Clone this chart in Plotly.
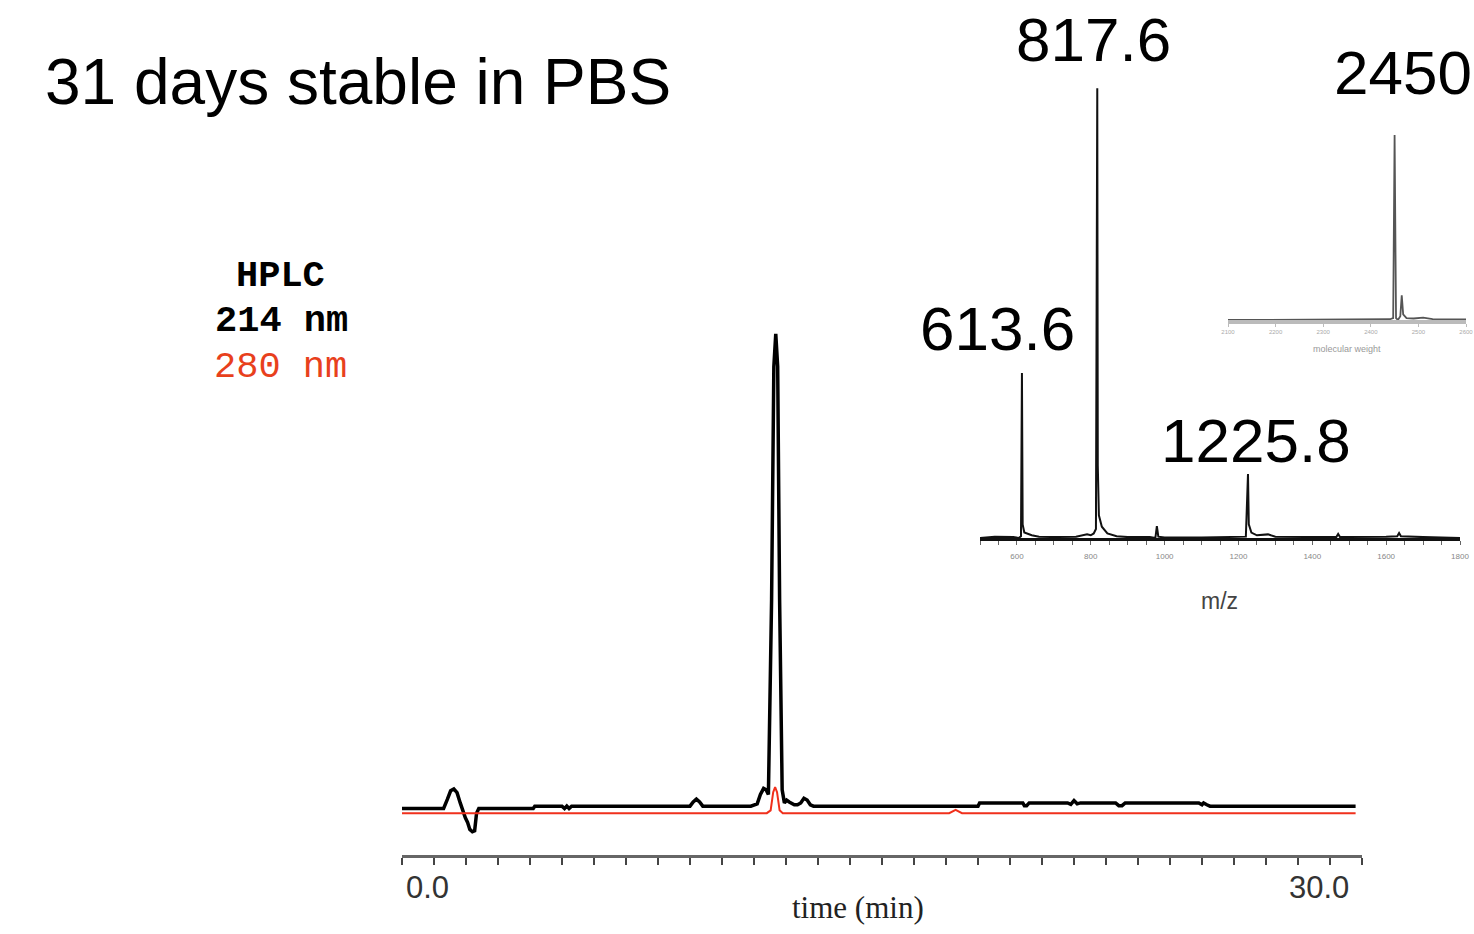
import plotly.graph_objects as go

# ---------------- data ----------------
# HPLC chromatogram, 214 nm (black) - time (min), relative absorbance
hplc_214_t = [0.0, 1.3, 1.42, 1.52, 1.62, 1.72, 1.82, 1.9, 1.98, 2.05, 2.12, 2.2, 2.27, 2.33, 2.4,
              4.1, 4.15, 5.0, 5.08, 5.15, 5.22, 5.3, 5.38, 9.0, 9.1, 9.2, 9.3, 9.4,
              10.9, 11.0, 11.1, 11.2, 11.3, 11.38, 11.45, 11.55, 11.62, 11.68, 11.74, 11.8, 11.88, 11.95,
              12.02, 12.1, 12.18, 12.26, 12.36, 12.46, 12.56, 12.66, 12.76, 12.86,
              18.0, 18.05, 19.4, 19.45, 19.52, 19.6, 20.8, 20.9, 21.0, 21.1, 21.2, 22.3, 22.4, 22.5, 22.6,
              24.9, 25.0, 25.05, 25.15, 25.25, 29.8]
hplc_214_y = [0.0, 0.0, 0.02, 0.038, 0.042, 0.034, 0.012, -0.005, -0.02, -0.03, -0.045, -0.05, -0.048, -0.01, 0.0,
              0.0, 0.005, 0.005, 0.0, 0.005, 0.0, 0.005, 0.005, 0.005, 0.014, 0.02, 0.014, 0.005,
              0.005, 0.008, 0.01, 0.03, 0.043, 0.04, 0.03, 0.45, 0.95, 1.02, 0.95, 0.45, 0.04, 0.012,
              0.018, 0.014, 0.01, 0.008, 0.008, 0.012, 0.022, 0.018, 0.008, 0.005,
              0.005, 0.012, 0.012, 0.006, 0.006, 0.012, 0.012, 0.009, 0.017, 0.01, 0.012, 0.012, 0.006, 0.006, 0.012,
              0.012, 0.008, 0.012, 0.008, 0.005, 0.005]

# HPLC chromatogram, 280 nm (red)
hplc_280_t = [0.0, 11.4, 11.52, 11.6, 11.66, 11.72, 11.8, 11.9, 12.05, 17.1, 17.3, 17.5, 29.8]
hplc_280_y = [-0.01, -0.01, -0.004, 0.035, 0.046, 0.035, -0.004, -0.01, -0.01, -0.01, -0.003, -0.01, -0.01]

# ESI mass spectrum (m/z, relative intensity)
ms_mz = [500, 540, 590, 605, 611, 613.6, 615.5, 620, 640, 660, 700, 760, 790, 800, 808, 814, 817.6, 819, 822,
         830, 845, 870, 900, 960, 975, 979, 983, 1000, 1100, 1200, 1220, 1225.8, 1228, 1235, 1250, 1280, 1300,
         1400, 1465, 1470, 1475, 1600, 1630, 1635, 1640, 1700, 1800]
ms_int = [0.0, 0.003, 0.002, 0.0, 0.004, 0.364, 0.03, 0.012, 0.006, 0.003, 0.002, 0.003, 0.008, 0.006, 0.01,
          0.02, 0.993, 0.16, 0.05, 0.025, 0.01, 0.004, 0.002, 0.002, 0.0, 0.026, 0.003, 0.001, 0.001, 0.002,
          0.003, 0.141, 0.03, 0.012, 0.006, 0.008, 0.003, 0.002, 0.002, 0.009, 0.002, 0.003, 0.004, 0.011, 0.004,
          0.002, 0.0]

# Deconvoluted molecular weight
mw_x = [2100, 2300, 2400, 2440, 2447, 2450, 2453, 2457, 2462, 2465, 2468, 2475, 2490, 2510, 2530, 2600]
mw_y = [0.0, 0.002, 0.004, 0.004, 0.01, 0.974, 0.01, 0.0, 0.02, 0.13, 0.03, 0.01, 0.008, 0.012, 0.005, 0.003]

# tick labels
hplc_ticks = list(range(0, 31))
hplc_tick_labels = ["0.0", "30.0"]
ms_tickvals = list(range(500, 1801, 50))
ms_ticklabels = ["600", "800", "1000", "1200", "1400", "1600", "1800"]
mw_tickvals = [2100, 2200, 2300, 2400, 2500, 2600]
mw_ticklabels = ["2100", "2200", "2300", "2400", "2500", "2600"]

# peak annotations
ms_peak_labels = ["613.6", "817.6", "1225.8"]
mw_peak_label = "2450"

W, H = 1474, 934


def px(x):
    return x / W


def py(y):
    return 1 - y / H


SANS = "Liberation Sans, Arial, sans-serif"
MONO = "Liberation Mono, Courier New, monospace"
SERIF = "Liberation Serif, Times New Roman, serif"

fig = go.Figure()

fig.add_trace(go.Scatter(x=hplc_214_t, y=hplc_214_y, mode="lines",
                         line=dict(color="#000000", width=3.5), xaxis="x", yaxis="y",
                         showlegend=False, hoverinfo="skip"))
fig.add_trace(go.Scatter(x=hplc_280_t, y=hplc_280_y, mode="lines",
                         line=dict(color="#f0301c", width=2), xaxis="x", yaxis="y",
                         showlegend=False, hoverinfo="skip"))
fig.add_trace(go.Scatter(x=ms_mz, y=ms_int, mode="lines",
                         line=dict(color="#111111", width=2), xaxis="x2", yaxis="y2",
                         showlegend=False, hoverinfo="skip"))
fig.add_trace(go.Scatter(x=mw_x, y=mw_y, mode="lines",
                         line=dict(color="#555555", width=1.8), xaxis="x3", yaxis="y3",
                         showlegend=False, hoverinfo="skip"))

ms_text = [(str(v) if str(v) in ms_ticklabels else "") for v in ms_tickvals]

yhidden = dict(showline=False, showticklabels=False, showgrid=False, zeroline=False, ticks="",
               automargin=False)

fig.update_layout(
    width=W, height=H, autosize=False,
    template="none",
    margin=dict(l=0, r=0, t=0, b=0, pad=0),
    paper_bgcolor="white", plot_bgcolor="rgba(0,0,0,0)",
    xaxis=dict(domain=[px(402), px(1362)], range=[0, 30], anchor="y", automargin=False,
               showline=True, linecolor="#666666", linewidth=3,
               ticks="outside", tickvals=hplc_ticks, ticklen=7, tickwidth=2, tickcolor="#444444",
               showticklabels=False, showgrid=False, zeroline=False),
    yaxis=dict(domain=[py(855), py(320)], range=[-0.1, 1.05], anchor="x", **yhidden),
    xaxis2=dict(domain=[px(980), px(1460)], range=[500, 1800], anchor="y2", automargin=False,
                showline=True, linecolor="#111111", linewidth=2.5,
                ticks="outside", tickvals=ms_tickvals, ticktext=ms_text, ticklen=4, tickwidth=1,
                tickcolor="#666666", tickfont=dict(family=SANS, size=8, color="#888888"),
                ticklabelstandoff=5,
                showgrid=False, zeroline=False),
    yaxis2=dict(domain=[py(538), py(85)], range=[0, 1.0], anchor="x2", **yhidden),
    xaxis3=dict(domain=[px(1228), px(1466)], range=[2100, 2600], anchor="y3", automargin=False,
                showline=True, linecolor="#bbbbbb", linewidth=4,
                ticks="outside", tickvals=mw_tickvals, ticktext=mw_ticklabels, ticklen=3, tickwidth=1,
                tickcolor="#bbbbbb", tickfont=dict(family=SANS, size=6, color="#aaaaaa"),
                showgrid=False, zeroline=False),
    yaxis3=dict(domain=[py(320), py(130)], range=[0, 1.0], anchor="x3", **yhidden),
)

ann = []


def add(text, x, y, size, family=SANS, color="#000000", xanchor="center"):
    ann.append(dict(text=text, x=px(x), y=py(y), xref="paper", yref="paper",
                    xanchor=xanchor, yanchor="middle", showarrow=False,
                    font=dict(family=family, size=size, color=color)))


add("31 days stable in PBS", 43, 82, 64, xanchor="left")
add(ms_peak_labels[1], 1093, 40, 62)
add(mw_peak_label, 1403, 72, 62)
add(ms_peak_labels[0], 997, 328, 62)
add(ms_peak_labels[2], 1256, 440, 62)
add("m/z", 1219, 601, 23, color="#444444")
add("molecular weight", 1347, 349, 9, color="#999999")
add("<b>HPLC</b>", 280, 276, 37, family=MONO)
add("<b>214 nm</b>", 281, 321, 37, family=MONO)
add("280 nm", 280, 367, 37, family=MONO, color="#e8401c")
add(hplc_tick_labels[0], 427, 887, 31, color="#333333")
add(hplc_tick_labels[1], 1319, 887, 31, color="#333333")
add("time (min)", 858, 907, 31, family=SERIF, color="#222222")

fig.update_layout(annotations=ann)

fig.write_html("out.html")
